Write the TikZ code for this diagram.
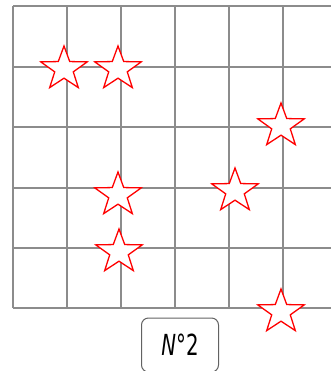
\documentclass[tikz,border=0pt]{standalone}
\usepackage{fontspec}
\usepackage{graphicx}
\setsansfont{DejaVu Sans}
\usetikzlibrary{shapes.geometric}
\definecolor{gridgray}{HTML}{8C8C8C}
\definecolor{starred}{HTML}{FF0000}

\begin{document}
\begin{tikzpicture}[x=1pt, y=-1pt,
      gridline/.style={draw=gridgray, line width=1.1pt},
      redstar/.style={star, star points=5, star point ratio=2.5, draw=starred, line width=1.3pt, fill=white, minimum size=46pt, inner sep=0pt, xscale=1.06},
      tag/.style={draw=gridgray!70!black, rounded corners=7pt, line width=1pt, minimum width=77pt, minimum height=54pt, font=\sffamily\fontsize{29}{29}\selectfont}
    ]
      \useasboundingbox (0,0) rectangle (331,371);
      % grid
      \foreach \x in {13,67,121,175,229,283} \draw[gridline] (\x,6) -- (\x,308);
      \foreach \y in {6,67,127,188,248,308} \draw[gridline] (13,\y) -- (331,\y);

      \node[redstar] (s1) at (64,69) {};
      \node[redstar] (s2) at (118,69) {};
      \node[redstar] (s3) at (281,126) {};
      \node[redstar] (s4) at (118,195) {};
      \node[redstar] (s5) at (235,191) {};
      \node[redstar] (s6) at (119,252) {};
      \node[redstar] (s7) at (281,312) {};

      \node[tag] (num) at (180,345) {\scalebox{0.68}[1]{\textit{N}°2}};
    \end{tikzpicture}
\end{document}
